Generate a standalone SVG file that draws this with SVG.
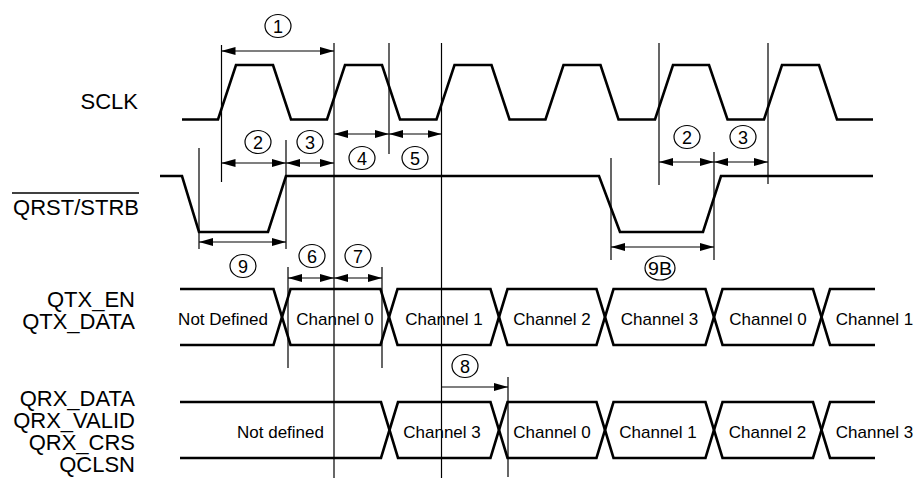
<svg xmlns="http://www.w3.org/2000/svg" width="917" height="478" viewBox="0 0 917 478">
<style>
.sig{fill:none;stroke:#000;stroke-width:2.6;stroke-linejoin:miter}
.ref{fill:none;stroke:#000;stroke-width:1.2}
.dim{fill:none;stroke:#000;stroke-width:1.2}
.lbl{font-family:"Liberation Sans",Arial,sans-serif;font-size:22px;fill:#000;text-anchor:end}
.cell{font-family:"Liberation Sans",Arial,sans-serif;font-size:17px;fill:#000;text-anchor:middle}
.num ellipse{fill:#fff;stroke:#000;stroke-width:1.2}
.num text{font-family:"Liberation Sans",Arial,sans-serif;font-size:18px;fill:#000;text-anchor:middle}
</style>
<defs>
<marker id="ah" viewBox="0 0 14 8" refX="14" refY="4" markerWidth="14" markerHeight="8" markerUnits="userSpaceOnUse" orient="auto-start-reverse">
<path d="M0,0 L14,4 L0,8 Z" fill="#000"/>
</marker>
</defs>
<rect width="917" height="478" fill="#fff"/>

<g id="labels">
<text class="lbl" x="138" y="109">SCLK</text>
<text class="lbl" x="139" y="215">QRST/STRB</text>
<line x1="12" y1="193" x2="139" y2="193" stroke="#000" stroke-width="1.6"/>
<text class="lbl" x="135" y="307">QTX_EN</text>
<text class="lbl" x="135" y="329">QTX_DATA</text>
<text class="lbl" x="135" y="406">QRX_DATA</text>
<text class="lbl" x="135" y="428">QRX_VALID</text>
<text class="lbl" x="135" y="450">QRX_CRS</text>
<text class="lbl" x="135" y="472">QCLSN</text>
</g>

<g id="sclk">
<path class="sig" d="M182,119.5 L218,119.5 L236,65 L273,65 L291,119.5 L327,119.5 L345,65 L382,65 L400,119.5 L436.5,119.5 L454.5,65 L491.5,65 L509.5,119.5 L545.5,119.5 L563.5,65 L600.5,65 L618.5,119.5 L655,119.5 L673,65 L709,65 L727.5,119.5 L764,119.5 L782,65 L819,65 L837,119.5 L873,119.5"/>
</g>

<g id="qrst">
<path class="sig" d="M160,176 L182,176 L199,232 L268,232 L286,176 L599,176 L620,232 L703,232 L721,176 L873,176"/>
</g>

<g id="qtx">
<path class="sig" d="M180,289 L273.5,289 L282,317 L273.5,345 L180,345"/>
<path class="sig" d="M282,317 L290.5,289 L380.5,289 L389,317 L380.5,345 L290.5,345 Z"/>
<path class="sig" d="M389,317 L397.5,289 L490.5,289 L499,317 L490.5,345 L397.5,345 Z"/>
<path class="sig" d="M499,317 L507.5,289 L596.5,289 L605,317 L596.5,345 L507.5,345 Z"/>
<path class="sig" d="M605,317 L613.5,289 L705.5,289 L714,317 L705.5,345 L613.5,345 Z"/>
<path class="sig" d="M714,317 L722.5,289 L813,289 L821.5,317 L813,345 L722.5,345 Z"/>
<path class="sig" d="M875,289 L830,289 L821.5,317 L830,345 L875,345"/>
<text class="cell" x="223" y="325">Not Defined</text>
<text class="cell" x="335" y="325">Channel 0</text>
<text class="cell" x="444" y="325">Channel 1</text>
<text class="cell" x="552" y="325">Channel 2</text>
<text class="cell" x="659.5" y="325">Channel 3</text>
<text class="cell" x="768" y="325">Channel 0</text>
<text class="cell" x="874.5" y="325">Channel 1</text>
</g>

<g id="qrx">
<path class="sig" d="M180,402 L381,402 L389.5,430 L381,458 L180,458"/>
<path class="sig" d="M389.5,430 L398,402 L490.5,402 L499,430 L490.5,458 L398,458 Z"/>
<path class="sig" d="M499,430 L507.5,402 L596.5,402 L605,430 L596.5,458 L507.5,458 Z"/>
<path class="sig" d="M605,430 L613.5,402 L705.5,402 L714,430 L705.5,458 L613.5,458 Z"/>
<path class="sig" d="M714,430 L722.5,402 L813,402 L821.5,430 L813,458 L722.5,458 Z"/>
<path class="sig" d="M875,402 L830,402 L821.5,430 L830,458 L875,458"/>
<text class="cell" x="280.5" y="438">Not defined</text>
<text class="cell" x="442" y="438">Channel 3</text>
<text class="cell" x="552" y="438">Channel 0</text>
<text class="cell" x="658" y="438">Channel 1</text>
<text class="cell" x="767.5" y="438">Channel 2</text>
<text class="cell" x="874.5" y="438">Channel 3</text>
</g>

<g id="connectors">
<line class="ref" x1="221.5" y1="45" x2="221.5" y2="182"/>
<line class="ref" x1="334" y1="43" x2="334" y2="478"/>
<line class="ref" x1="389" y1="43" x2="389" y2="154"/>
<line class="ref" x1="441.5" y1="43" x2="441.5" y2="478"/>
<line class="ref" x1="286" y1="140" x2="286" y2="249"/>
<line class="ref" x1="288" y1="267" x2="288" y2="368"/>
<line class="ref" x1="382" y1="267" x2="382" y2="368"/>
<line class="ref" x1="199" y1="148" x2="199" y2="249"/>
<line class="ref" x1="611" y1="158" x2="611" y2="260"/>
<line class="ref" x1="659" y1="43" x2="659" y2="185"/>
<line class="ref" x1="714" y1="152" x2="714" y2="260"/>
<line class="ref" x1="768" y1="43" x2="768" y2="184"/>
<line class="ref" x1="508" y1="377" x2="508" y2="477"/>

<line class="dim" x1="221.5" y1="51" x2="334" y2="51" marker-start="url(#ah)" marker-end="url(#ah)"/>
<line class="dim" x1="221.5" y1="163" x2="286" y2="163" marker-start="url(#ah)" marker-end="url(#ah)"/>
<line class="dim" x1="286" y1="163" x2="334" y2="163" marker-start="url(#ah)" marker-end="url(#ah)"/>
<line class="dim" x1="334" y1="134" x2="389" y2="134" marker-start="url(#ah)" marker-end="url(#ah)"/>
<line class="dim" x1="389" y1="134" x2="441.5" y2="134" marker-start="url(#ah)" marker-end="url(#ah)"/>
<line class="dim" x1="199" y1="242" x2="286" y2="242" marker-start="url(#ah)" marker-end="url(#ah)"/>
<line class="dim" x1="288" y1="278" x2="334" y2="278" marker-start="url(#ah)" marker-end="url(#ah)"/>
<line class="dim" x1="334" y1="278" x2="382" y2="278" marker-start="url(#ah)" marker-end="url(#ah)"/>
<line class="dim" x1="441.5" y1="387" x2="508" y2="387" marker-end="url(#ah)"/>
<line class="dim" x1="659" y1="162" x2="714" y2="162" marker-start="url(#ah)" marker-end="url(#ah)"/>
<line class="dim" x1="714" y1="162" x2="768" y2="162" marker-start="url(#ah)" marker-end="url(#ah)"/>
<line class="dim" x1="611" y1="247" x2="714" y2="247" marker-start="url(#ah)" marker-end="url(#ah)"/>
</g>

<g id="callouts" class="num">
<g id="n1"><ellipse cx="278" cy="26" rx="13" ry="11.5"/><text x="278" y="32.5">1</text></g>
<g id="n2"><ellipse cx="258" cy="142" rx="13" ry="11.5"/><text x="258" y="148.5">2</text></g>
<g id="n3"><ellipse cx="310" cy="142" rx="13" ry="11.5"/><text x="310" y="148.5">3</text></g>
<g id="n4"><ellipse cx="362" cy="158" rx="13" ry="11.5"/><text x="362" y="164.5">4</text></g>
<g id="n5"><ellipse cx="415" cy="158" rx="13" ry="11.5"/><text x="415" y="164.5">5</text></g>
<g id="n6"><ellipse cx="312" cy="256" rx="13" ry="11.5"/><text x="312" y="262.5">6</text></g>
<g id="n7"><ellipse cx="358" cy="256" rx="13" ry="11.5"/><text x="358" y="262.5">7</text></g>
<g id="n8"><ellipse cx="465" cy="366" rx="13" ry="11.5"/><text x="465" y="372.5">8</text></g>
<g id="n9"><ellipse cx="243" cy="266" rx="13" ry="11.5"/><text x="243" y="272.5">9</text></g>
<g id="n9b"><ellipse cx="660" cy="268" rx="15" ry="12"/><text x="660" y="274.5" textLength="24" lengthAdjust="spacingAndGlyphs">9B</text></g>
<g id="n2r"><ellipse cx="687" cy="137" rx="13" ry="11.5"/><text x="687" y="143.5">2</text></g>
<g id="n3r"><ellipse cx="743" cy="137" rx="13" ry="11.5"/><text x="743" y="143.5">3</text></g>
</g>
</svg>
